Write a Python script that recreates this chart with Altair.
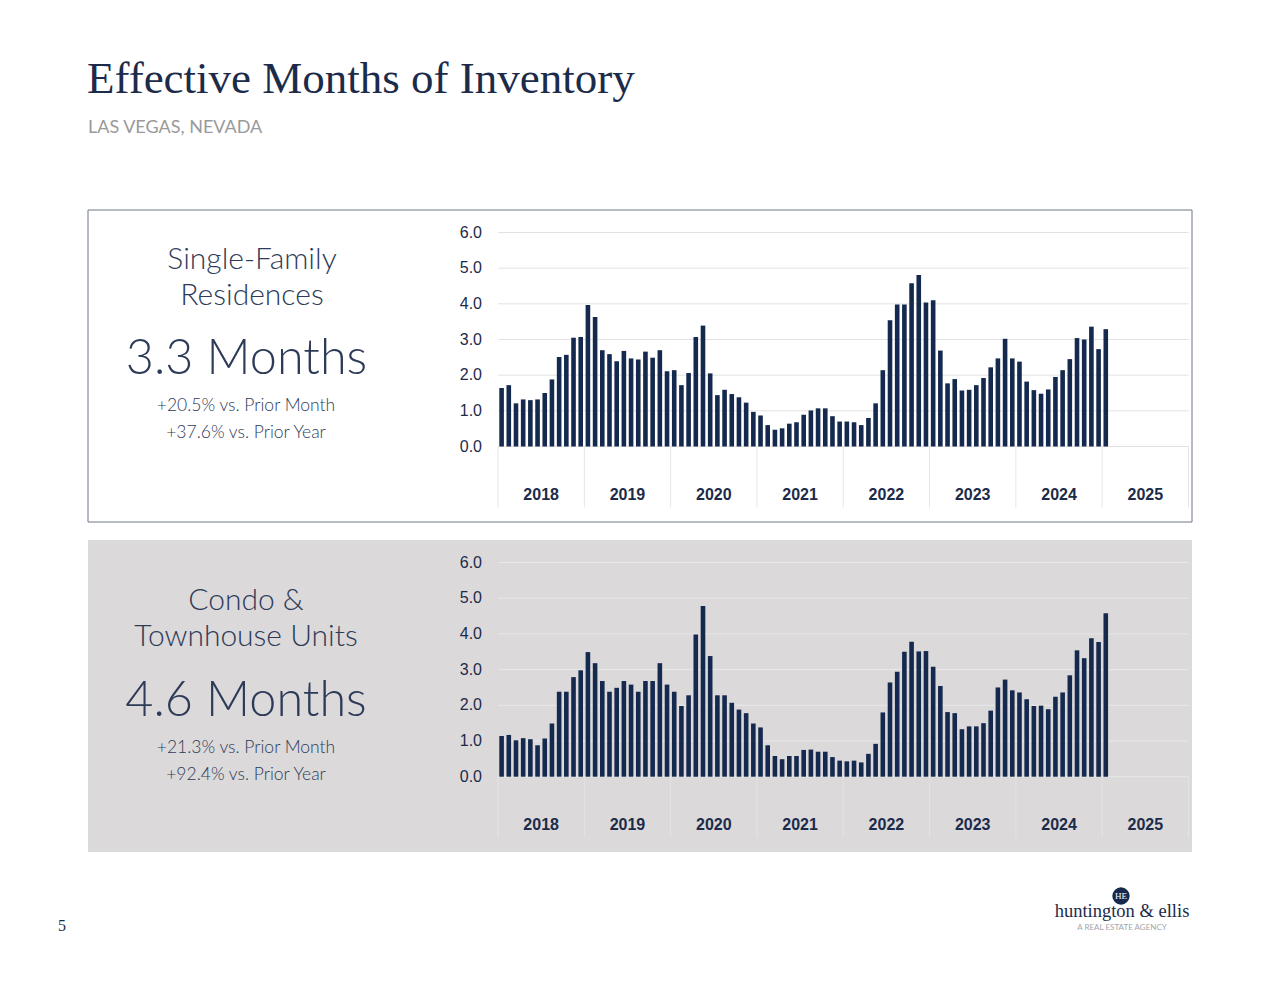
import altair as alt
import pandas as pd

# ---------------- data ----------------
YEARS = ["2018", "2019", "2020", "2021", "2022", "2023", "2024", "2025"]
MONTH_SLOTS = 96  # 8 years x 12 months on the axis

SFR = [
    1.64, 1.72, 1.21, 1.32, 1.30, 1.32, 1.50, 1.88, 2.51, 2.57, 3.05, 3.07,
    3.97, 3.63, 2.70, 2.59, 2.39, 2.68, 2.47, 2.44, 2.66, 2.49, 2.70, 2.11,
    2.14, 1.72, 2.06, 3.07, 3.39, 2.05, 1.44, 1.59, 1.47, 1.38, 1.23, 0.97,
    0.87, 0.60, 0.47, 0.51, 0.64, 0.68, 0.89, 1.01, 1.07, 1.07, 0.85, 0.70,
    0.70, 0.68, 0.60, 0.80, 1.21, 2.14, 3.54, 3.98, 3.98, 4.58, 4.81, 4.04,
    4.10, 2.69, 1.77, 1.89, 1.57, 1.59, 1.72, 1.92, 2.22, 2.47, 3.02, 2.47,
    2.38, 1.82, 1.58, 1.48, 1.60, 1.95, 2.14, 2.45, 3.04, 3.00, 3.36, 2.73,
    3.29,
]

CONDO = [
    1.14, 1.17, 1.02, 1.08, 1.05, 0.88, 1.07, 1.49, 2.38, 2.38, 2.79, 2.98,
    3.49, 3.18, 2.68, 2.38, 2.49, 2.68, 2.58, 2.38, 2.68, 2.68, 3.18, 2.58,
    2.38, 1.98, 2.28, 3.98, 4.78, 3.38, 2.28, 2.28, 2.07, 1.88, 1.78, 1.49,
    1.38, 0.88, 0.58, 0.49, 0.58, 0.58, 0.75, 0.76, 0.70, 0.70, 0.55, 0.45,
    0.43, 0.45, 0.40, 0.64, 0.92, 1.80, 2.64, 2.94, 3.50, 3.78, 3.51, 3.52,
    3.08, 2.54, 1.81, 1.78, 1.33, 1.41, 1.41, 1.50, 1.85, 2.50, 2.72, 2.42,
    2.36, 2.17, 1.98, 1.99, 1.89, 2.24, 2.36, 2.84, 3.54, 3.32, 3.88, 3.77,
    4.58,
]

Y_TICKS = [0, 1, 2, 3, 4, 5, 6]
Y_TICK_LABELS = ["0.0", "1.0", "2.0", "3.0", "4.0", "5.0", "6.0"]

# ---------------- styles ----------------
W, H = 1264, 973
NAVY = "#14294d"
TEXT_NAVY = "#1c2b4a"
SLATE = "#2e3b58"
SERIF = "Liberation Serif, DejaVu Serif, serif"
SANS_LIGHT = "Lato, Open Sans, sans-serif"
NARROW = "Liberation Sans Narrow, Arial Narrow, Liberation Sans, Arial, sans-serif"
X_RANGE = [490, 1180.5]


def label(text, x, y, size, color, font=SANS_LIGHT, weight="normal", align="left",
          baseline="alphabetic"):
    return alt.Chart(pd.DataFrame({"t": [text]})).mark_text(
        align=align, baseline=baseline, fontSize=size, font=font, color=color,
        fontWeight=weight,
    ).encode(text="t:N", x=alt.value(x), y=alt.value(y))


def box(x, x2, y, y2, fill, stroke=None):
    kw = dict(fill=fill)
    if stroke:
        kw.update(stroke=stroke, strokeWidth=1)
    return alt.Chart(pd.DataFrame({"a": [0]})).mark_rect(**kw).encode(
        x=alt.value(x), x2=alt.value(x2), y=alt.value(y), y2=alt.value(y2))


def bar_panel(values, zero_y, top_y, grid_color, sep_color):
    yscale = alt.Scale(domain=[0, 6], range=[zero_y, top_y], nice=False, zero=True)
    bars_df = pd.DataFrame({"idx": list(range(len(values))), "v": values})
    ticks_df = pd.DataFrame({"t": Y_TICKS, "lab": Y_TICK_LABELS})
    bounds_df = pd.DataFrame({"b": list(range(len(YEARS) + 1))})
    years_df = pd.DataFrame({"year": YEARS})

    grid = alt.Chart(ticks_df).mark_rule(color=grid_color, strokeWidth=1).encode(
        y=alt.Y("t:Q", scale=yscale, axis=None),
        x=alt.value(X_RANGE[0]), x2=alt.value(X_RANGE[1]))
    ylabels = alt.Chart(ticks_df).mark_text(
        align="right", baseline="middle", fontSize=16, font=NARROW, color=TEXT_NAVY
    ).encode(y=alt.Y("t:Q", scale=yscale, axis=None), x=alt.value(474), text="lab:N")
    seps = alt.Chart(bounds_df).mark_rule(color=sep_color, strokeWidth=1).encode(
        x=alt.X("b:Q", scale=alt.Scale(domain=[0, len(YEARS)], range=X_RANGE), axis=None),
        y=alt.value(zero_y), y2=alt.value(zero_y + 61))
    ylab = alt.Chart(years_df).mark_text(
        align="center", baseline="middle", fontSize=16, font=NARROW,
        fontWeight="bold", color=TEXT_NAVY
    ).encode(
        x=alt.X("year:O", scale=alt.Scale(type="band", domain=YEARS, range=X_RANGE,
                                          paddingInner=0, paddingOuter=0),
                axis=None, bandPosition=0.5),
        y=alt.value(zero_y + 48.5), text="year:N")
    bars = alt.Chart(bars_df).mark_bar(color=NAVY).encode(
        x=alt.X("idx:O", scale=alt.Scale(domain=list(range(MONTH_SLOTS)), range=X_RANGE,
                                         paddingInner=0.36, paddingOuter=0.18),
                axis=None),
        y=alt.Y("v:Q", scale=yscale, axis=None))
    return [grid, seps, ylabels, ylab, bars]


layers = []
# panels
layers.append(box(80, 1184, 202, 514, "#ffffff", stroke="#6f7785"))
layers.append(box(80, 1184, 532, 844, "#dbd9da"))

# header
layers.append(label("Effective Months of Inventory", 79, 85, 45, TEXT_NAVY, font=SERIF))
layers.append(label("LAS VEGAS, NEVADA", 80, 125, 18, "#9a9a9a"))

# top panel text
layers.append(label("Single-Family", 244, 261, 30, SLATE, weight=300, align="center"))
layers.append(label("Residences", 244, 297, 30, SLATE, weight=300, align="center"))
layers.append(label("3.3 Months", 238.5, 366, 48.5, SLATE, weight=300, align="center"))
layers.append(label("+20.5% vs. Prior Month", 238, 403, 17.5, SLATE, weight=300, align="center"))
layers.append(label("+37.6% vs. Prior Year", 238, 430, 17.5, SLATE, weight=300, align="center"))

# bottom panel text
layers.append(label("Condo &", 238, 602, 30, SLATE, weight=300, align="center"))
layers.append(label("Townhouse Units", 238, 638, 30, SLATE, weight=300, align="center"))
layers.append(label("4.6 Months", 238, 708, 48.5, SLATE, weight=300, align="center"))
layers.append(label("+21.3% vs. Prior Month", 238, 745, 17.5, SLATE, weight=300, align="center"))
layers.append(label("+92.4% vs. Prior Year", 238, 772, 17.5, SLATE, weight=300, align="center"))

# charts
layers += bar_panel(SFR, 438.5, 224.5, "#e2e2e2", "#e6e6e6")
layers += bar_panel(CONDO, 768.7, 554.5, "#e9e8e9", "#e4e3e4")

# footer
layers.append(label("5", 54, 923, 16, TEXT_NAVY, font=SERIF, align="center"))
layers.append(alt.Chart(pd.DataFrame({"a": [0]})).mark_circle(color=NAVY, opacity=1).encode(
    x=alt.value(1113), y=alt.value(888), size=alt.value(300)))
layers.append(label("HE", 1113, 888, 9, "#ffffff", font=SERIF, align="center", baseline="middle"))
layers.append(label("huntington & ellis", 1114, 909, 18.5, TEXT_NAVY, font=SERIF, align="center"))
layers.append(label("A REAL ESTATE AGENCY", 1114, 922, 8, "#a0a6b0", font=SANS_LIGHT, align="center"))

chart = alt.layer(*layers).resolve_scale(x="independent", y="independent").properties(
    width=W, height=H, padding=0, autosize=alt.AutoSizeParams(type="none"),
    background="#ffffff",
).configure_view(stroke=None)

chart.save("out.html", embed_options={"renderer": "svg", "actions": False})
